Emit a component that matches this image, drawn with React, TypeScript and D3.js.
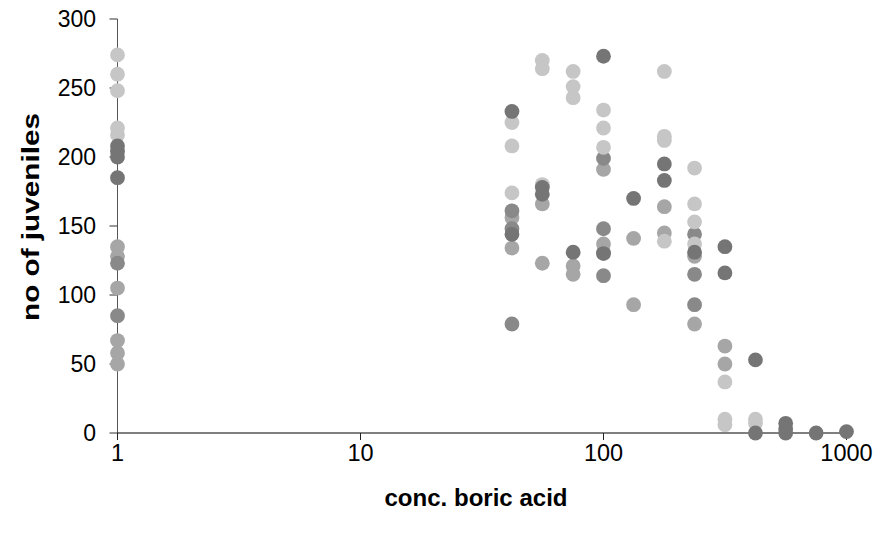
import React from 'react';
import * as d3 from 'd3';

// concentration (boric acid) and number of juveniles, grouped by marker shade
const lightPts: [number, number][] = [
  [1, 274], [1, 260], [1, 248], [1, 221], [1, 216],
  [42, 225], [42, 208], [42, 174],
  [56, 270], [56, 264], [56, 180],
  [75, 262], [75, 251], [75, 243],
  [100, 234], [100, 221], [100, 207],
  [178, 262], [178, 215], [178, 212], [178, 139],
  [237, 192], [237, 166], [237, 153], [237, 137],
  [316, 37], [316, 10], [316, 6],
  [422, 10], [422, 7],
];

const midPts: [number, number][] = [
  [1, 135], [1, 128], [1, 105], [1, 67], [1, 58], [1, 50],
  [42, 156], [42, 134],
  [56, 166], [56, 123],
  [75, 121], [75, 115],
  [100, 191], [100, 137], [100, 131],
  [133, 141], [133, 93],
  [178, 164], [178, 145],
  [237, 128], [237, 79],
  [316, 63], [316, 50],
];

const midDarkPts: [number, number][] = [
  [1, 123], [1, 85],
  [42, 161], [42, 148], [42, 79],
  [100, 199], [100, 148], [100, 114],
  [237, 144], [237, 115], [237, 93],
];

const darkPts: [number, number][] = [
  [1, 208], [1, 204], [1, 200], [1, 185],
  [42, 233], [42, 144],
  [56, 178], [56, 173],
  [75, 131],
  [100, 273], [100, 130],
  [133, 170],
  [178, 195], [178, 183],
  [237, 131],
  [316, 135], [316, 116],
  [422, 53], [422, 0],
  [562, 7], [562, 3], [562, 0],
  [750, 0],
  [1000, 1],
];

const xTicks = [1, 10, 100, 1000];
const yTicks = [0, 50, 100, 150, 200, 250, 300];
const xTitle = 'conc. boric acid';
const yTitle = 'no of juveniles';

const series = [
  { name: 'mid', color: '#a6a6a6', pts: midPts },
  { name: 'midDark', color: '#898989', pts: midDarkPts },
  { name: 'light', color: '#c6c6c6', pts: lightPts },
  { name: 'dark', color: '#757575', pts: darkPts },
];

export default function App() {
  const W = 878;
  const H = 539;
  const x = d3.scaleLog().domain([1, 1000]).range([117.5, 846.5]);
  const y = d3.scaleLinear().domain([0, 300]).range([433, 19]);
  const font = "'Liberation Sans', Arial, sans-serif";
  const x0 = x(1);
  const y0 = y(0);

  return (
    <svg
      width={W}
      height={H}
      style={{ position: 'absolute', left: 0, top: 0, background: '#fff' }}
      fontFamily={font}
    >
      <rect x={0} y={0} width={W} height={H} fill="#fff" />
      {/* y axis */}
      <line x1={x0} x2={x0} y1={y(300)} y2={y0 + 7} stroke="#555" strokeWidth={1} />
      {yTicks.map((t) => (
        <g key={'yt' + t}>
          <line x1={x0 - 8} x2={x0} y1={y(t)} y2={y(t)} stroke="#333" strokeWidth={1} />
          <text
            x={96}
            y={y(t)}
            dy="0.36em"
            textAnchor="end"
            fontSize={23}
            fill="#000"
          >
            {t}
          </text>
        </g>
      ))}
      {/* x axis */}
      <line x1={x0} x2={x(1000)} y1={y0} y2={y0} stroke="#000" strokeWidth={1} />
      {xTicks.map((t) => (
        <g key={'xt' + t}>
          <line x1={x(t)} x2={x(t)} y1={y0} y2={y0 + 7} stroke="#222" strokeWidth={1} />
          <text
            x={x(t)}
            y={460.5}
            textAnchor="middle"
            fontSize={23.5}
            fill="#000"
          >
            {t}
          </text>
        </g>
      ))}
      {/* points */}
      {series.map((s) => (
        <g key={s.name}>
          {s.pts.map((p, i) => (
            <circle key={i} cx={x(p[0])} cy={y(p[1])} r={7.4} fill={s.color} />
          ))}
        </g>
      ))}
      {/* titles */}
      <text
        x={476}
        y={506}
        textAnchor="middle"
        fontSize={24}
        fontWeight="bold"
        textLength={183}
        lengthAdjust="spacingAndGlyphs"
        fill="#000"
      >
        {xTitle}
      </text>
      <text
        transform="translate(39,217) rotate(-90)"
        textAnchor="middle"
        fontSize={24}
        fontWeight="bold"
        textLength={208}
        lengthAdjust="spacingAndGlyphs"
        fill="#000"
      >
        {yTitle}
      </text>
    </svg>
  );
}
